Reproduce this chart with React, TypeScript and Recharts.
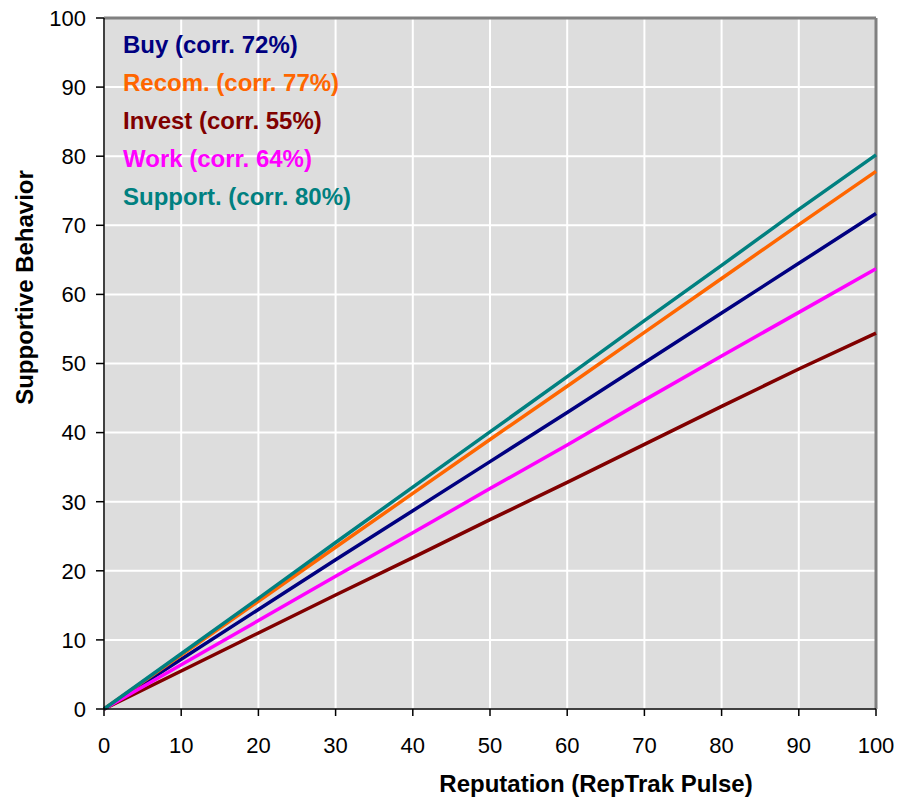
import { LineChart, Line, XAxis, YAxis, CartesianGrid, ReferenceLine } from 'recharts';

// Reputation score on the x axis
const reputation = [0, 10, 20, 30, 40, 50, 60, 70, 80, 90, 100];

// Predicted supportive behaviour for each driver
const buy = [0, 7.2, 14.4, 21.6, 28.7, 35.8, 42.9, 50.1, 57.3, 64.5, 71.7];
const recommend = [0, 7.8, 15.6, 23.4, 31.2, 39.0, 46.7, 54.5, 62.3, 70.1, 77.8];
const invest = [0, 5.5, 11.0, 16.5, 21.9, 27.4, 32.8, 38.3, 43.8, 49.2, 54.4];
const work = [0, 6.4, 12.8, 19.2, 25.5, 31.9, 38.2, 44.7, 51.1, 57.4, 63.7];
const support = [0, 8.0, 16.0, 24.1, 32.1, 40.1, 48.1, 56.2, 64.2, 72.3, 80.2];

const ticks = [0, 10, 20, 30, 40, 50, 60, 70, 80, 90, 100];

const series = [
    { key: 'buy', name: 'Buy (corr. 72%)', color: '#000080' },
    { key: 'recommend', name: 'Recom. (corr. 77%)', color: '#FF6600' },
    { key: 'invest', name: 'Invest (corr. 55%)', color: '#800000' },
    { key: 'work', name: 'Work (corr. 64%)', color: '#FF00FF' },
    { key: 'support', name: 'Support. (corr. 80%)', color: '#008080' },
];

const data = reputation.map((x, i) => ({
    x,
    buy: buy[i],
    recommend: recommend[i],
    invest: invest[i],
    work: work[i],
    support: support[i],
}));

const font = 'Arial, "Liberation Sans", sans-serif';

// Text legend sitting inside the top-left corner of the plot
function SeriesLegend() {
    return (
        <div style={{ position: 'absolute', left: 123, top: 26, fontFamily: font, fontWeight: 'bold', fontSize: 24 }}>
            {series.map((s) => (
                <div key={s.key} style={{ color: s.color, height: 38, lineHeight: '38px', whiteSpace: 'nowrap' }}>
                    {s.name}
                </div>
            ))}
        </div>
    );
}

export default function App() {
    return (
        <div style={{ position: 'absolute', left: 0, top: 0, width: 898, height: 798, background: '#fff' }}>
            <LineChart width={898} height={798} data={data} margin={{ top: 18, right: 22, bottom: 0, left: 0 }}>
                <CartesianGrid stroke="#ffffff" strokeWidth={2} fill="#DDDDDD" />
                <XAxis
                    dataKey="x"
                    type="number"
                    domain={[0, 100]}
                    ticks={ticks}
                    height={89}
                    stroke="#000"
                    strokeWidth={1.5}
                    tickSize={7}
                    tickMargin={21}
                    tick={{ fill: '#000', fontSize: 22, fontFamily: font }}
                    label={({ viewBox }: any) => (
                        <text
                            x={viewBox.x + viewBox.width / 2 + 106}
                            y={viewBox.y + 83}
                            textAnchor="middle"
                            fontFamily={font}
                            fontWeight="bold"
                            fontSize={24}
                            fill="#000"
                        >
                            Reputation (RepTrak Pulse)
                        </text>
                    )}
                />
                <YAxis
                    type="number"
                    domain={[0, 100]}
                    ticks={ticks}
                    width={104}
                    stroke="#000"
                    strokeWidth={1.5}
                    tickSize={8}
                    tickMargin={10}
                    tick={{ fill: '#000', fontSize: 22, fontFamily: font }}
                    label={({ viewBox }: any) => {
                        const cx = 33;
                        const cy = viewBox.y + viewBox.height / 2 - 76;
                        return (
                            <text
                                x={cx}
                                y={cy}
                                transform={`rotate(-90, ${cx}, ${cy})`}
                                textAnchor="middle"
                                fontFamily={font}
                                fontWeight="bold"
                                fontSize={24}
                                fill="#000"
                            >
                                Supportive Behavior
                            </text>
                        );
                    }}
                />
                <ReferenceLine y={100} stroke="#808080" strokeWidth={3} />
                <ReferenceLine x={100} stroke="#808080" strokeWidth={3} />
                {series.map((s) => (
                    <Line
                        key={s.key}
                        type="linear"
                        dataKey={s.key}
                        name={s.name}
                        stroke={s.color}
                        strokeWidth={3.5}
                        dot={false}
                        isAnimationActive={false}
                    />
                ))}
            </LineChart>
            <SeriesLegend />
        </div>
    );
}
